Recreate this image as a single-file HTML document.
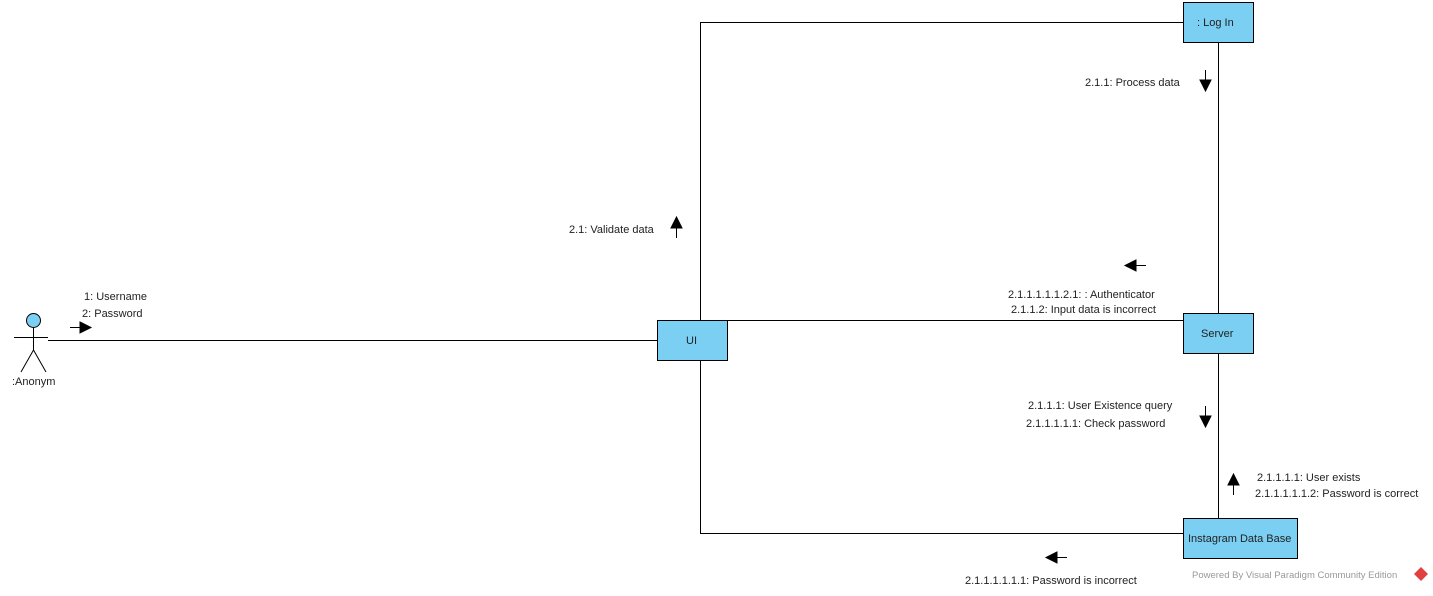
<!DOCTYPE html>
<html><head><style>
body{margin:0;background:#fff;}
svg text{font-family:"Liberation Sans",sans-serif;font-size:11px;fill:#222;}
</style></head><body>
<svg width="1433" height="591" viewBox="0 0 1433 591" xmlns="http://www.w3.org/2000/svg">
<g stroke="#000" stroke-width="1" fill="none">
<path d="M48 340.5H657"/>
<path d="M700.5 320V22.5H1183"/>
<path d="M700.5 360V533.5H1183"/>
<path d="M727 320.5H1183"/>
<path d="M1218.5 42V313"/>
<path d="M1218.5 353V518"/>
</g>
<!-- actor -->
<circle cx="33.5" cy="320.5" r="7" fill="#7acff3" stroke="#000"/>
<g stroke="#000" fill="none">
<path d="M33.5 327.5V350M14 337.5H48M33.5 350L21 372M33.5 350L46 372"/>
</g>
<text x="12" y="385">:Anonym</text>
<!-- boxes -->
<g fill="#7acff3" stroke="#000">
<rect x="1183.5" y="2.5" width="70" height="40"/>
<rect x="657.5" y="320.5" width="70" height="40"/>
<rect x="1183.5" y="313.5" width="70" height="40"/>
<rect x="1183.5" y="518.5" width="114" height="40"/>
</g>
<text x="1197" y="26">: Log In</text>
<text x="686" y="344">UI</text>
<text x="1201" y="337">Server</text>
<text x="1188" y="542">Instagram Data Base</text>
<!-- arrows -->
<g fill="#000" stroke="#000">
<path d="M70 327.5H82" fill="none"/><path d="M80 322L91 327.5L80 333Z"/>
<path d="M676.5 238V226" fill="none"/><path d="M671 228L676.5 217L682 228Z"/>
<path d="M1205.5 70V82" fill="none"/><path d="M1200 80L1205.5 91L1211 80Z"/>
<path d="M1146 265.5H1134" fill="none"/><path d="M1136 260L1125 265.5L1136 271Z"/>
<path d="M1205.5 406V418" fill="none"/><path d="M1200 416L1205.5 427L1211 416Z"/>
<path d="M1233.5 495V483" fill="none"/><path d="M1228 485L1233.5 474L1239 485Z"/>
<path d="M1067 557.5H1055" fill="none"/><path d="M1057 552L1046 557.5L1057 563Z"/>
</g>
<!-- labels -->
<text x="84" y="300">1: Username</text>
<text x="82" y="317">2: Password</text>
<text x="569" y="233">2.1: Validate data</text>
<text x="1085" y="86">2.1.1: Process data</text>
<text x="1008" y="298">2.1.1.1.1.1.2.1: : Authenticator</text>
<text x="1011" y="313">2.1.1.2: Input data is incorrect</text>
<text x="1028" y="409">2.1.1.1: User Existence query</text>
<text x="1026" y="427">2.1.1.1.1.1: Check password</text>
<text x="1257" y="481">2.1.1.1.1: User exists</text>
<text x="1255" y="497">2.1.1.1.1.1.2: Password is correct</text>
<text x="965" y="584">2.1.1.1.1.1.1: Password is incorrect</text>
<text x="1192" y="578" style="font-size:9.5px;fill:#999">Powered By  Visual Paradigm Community Edition</text>
<path d="M1421 567L1428 574L1421 581L1414 574Z" fill="#e04040"/>
</svg>
</body></html>
